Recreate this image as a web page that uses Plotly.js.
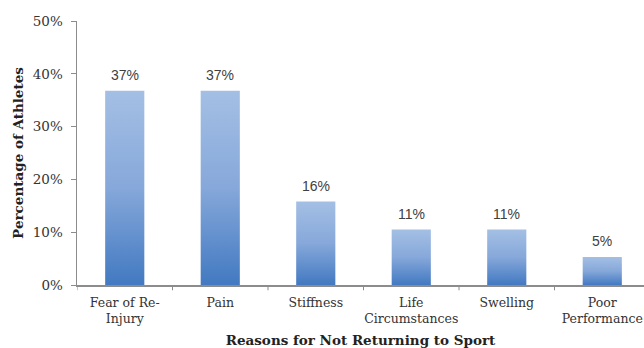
<!DOCTYPE html>
<html><head><meta charset="utf-8">
<script src="https://cdn.plot.ly/plotly-3.0.1.min.js"></script>
<style>html,body{margin:0;padding:0;background:#fff;}</style>
</head><body>
<div id="chart" style="width:644px;height:348px;"></div>
<script>
const categories = ["Fear of Re-<br>Injury", "Pain", "Stiffness", "Life<br>Circumstances", "Swelling", "Poor<br>Performance"];
const values = [36.8, 36.8, 15.8, 10.5, 10.5, 5.3];
const yTickVals = [0, 10, 20, 30, 40, 50];
const yTickText = ["0%", "10%", "20%", "30%", "40%", "50%"];

const serif = "DejaVu Serif, Liberation Serif, serif";
const idx = categories.map((c, i) => i);
const trace = {
  type: "bar",
  x: idx,
  y: values,
  width: 0.41,
  marker: {color: "#6f98d2", line: {width: 0}},
  hoverinfo: "none"
};
const annotations = values.map((v, i) => ({
  x: i, y: v, xref: "x", yref: "y",
  text: Math.round(v) + "%", showarrow: false,
  yanchor: "bottom", yshift: 6,
  font: {family: "Liberation Sans, Arial, sans-serif", size: 14, color: "#404040"}
}));
const layout = {
  width: 644, height: 348,
  margin: {l: 77, r: 0, t: 21, b: 63},
  paper_bgcolor: "#fff", plot_bgcolor: "#fff",
  showlegend: false,
  xaxis: {
    range: [-0.5, 5.437],
    tickvals: idx,
    ticktext: categories,
    showline: true, linecolor: "#8c8c8c", linewidth: 2,
    ticks: "", showgrid: false, zeroline: false,
    ticklabelstandoff: 5,
    tickfont: {family: serif, size: 12.5, color: "#333"},
    title: {text: "<b>Reasons for Not Returning to Sport</b>", font: {family: serif, size: 13.5, color: "#222"}, standoff: 12}
  },
  yaxis: {
    range: [0, 50],
    tickvals: yTickVals, ticktext: yTickText,
    showline: true, linecolor: "#8c8c8c", linewidth: 1.5,
    ticks: "outside", ticklen: 5, tickcolor: "#8c8c8c", tickwidth: 1,
    ticklabelstandoff: 5,
    showgrid: false, zeroline: false,
    tickfont: {family: serif, size: 13.5, color: "#333"},
    title: {text: "<b>Percentage of Athletes</b>", font: {family: serif, size: 13.5, color: "#222"}, standoff: 6}
  },
  annotations: annotations,
  shapes: [-1, 0, 1, 2, 3, 4, 5].map(i => ({
    type: "line", xref: "x", yref: "paper", x0: i + 0.5, x1: i + 0.5, y0: 0, y1: -0.02,
    line: {color: "#8c8c8c", width: 1}
  }))
};
Plotly.newPlot("chart", [trace], layout, {staticPlot: true, displayModeBar: false}).then(gd => {
  const svg = gd.querySelector("svg.main-svg");
  const ns = "http://www.w3.org/2000/svg";
  let defs = svg.querySelector("defs");
  const lg = document.createElementNS(ns, "linearGradient");
  lg.setAttribute("id", "barGrad");
  lg.setAttribute("x1", "0"); lg.setAttribute("y1", "0");
  lg.setAttribute("x2", "0"); lg.setAttribute("y2", "1");
  [["0", "#a4bfe4"], ["0.5", "#86a8da"], ["1", "#4279c1"]].forEach(([o, c]) => {
    const s = document.createElementNS(ns, "stop");
    s.setAttribute("offset", o); s.setAttribute("stop-color", c);
    lg.appendChild(s);
  });
  defs.appendChild(lg);
  gd.querySelectorAll(".barlayer .point path").forEach(p => {
    p.style.fill = "url(#barGrad)";
  });
});
</script>
</body></html>
